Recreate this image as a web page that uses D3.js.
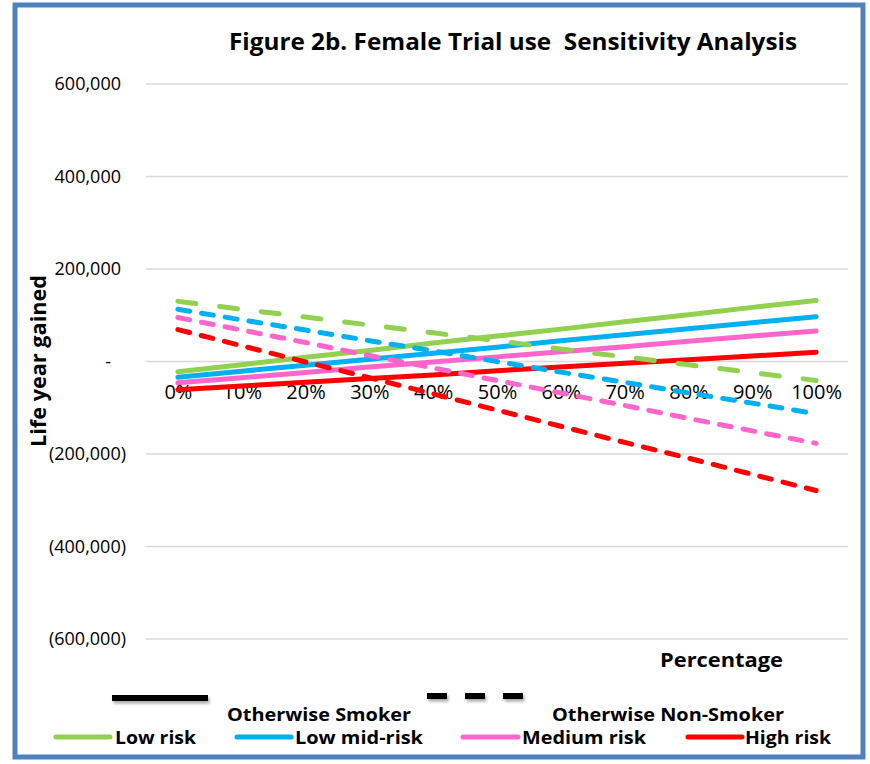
<!DOCTYPE html>
<html>
<head>
<meta charset="utf-8">
<script src="https://cdn.jsdelivr.net/npm/d3@7"></script>
<style>
  html, body { margin: 0; padding: 0; background: #fff; }
  svg { display: block; }
  text { font-family: "Open Sans", "Noto Sans", sans-serif; fill: #000; }
</style>
</head>
<body>
<svg id="chart" width="870" height="764"></svg>
<script>
// ---- data ----
const categories = ["0%","10%","20%","30%","40%","50%","60%","70%","80%","90%","100%"];
const riskLabels = ["Low risk","Low mid-risk","Medium risk","High risk"];
const riskColors = ["#92D050","#00B0F0","#FF66CC","#FF0000"];
// Otherwise Smoker (solid)
const smokerLow     = [-22000,-7000,9000,24000,40000,55000,70000,86000,101000,117000,132000];
const smokerLowMid  = [-34000,-21000,-8000,5000,18000,31000,45000,58000,71000,84000,97000];
const smokerMedium  = [-46000,-35000,-24000,-12000,-1000,10000,21000,32000,44000,55000,66000];
const smokerHigh    = [-61000,-53000,-45000,-37000,-29000,-20000,-12000,-4000,4000,12000,20000];
// Otherwise Non-Smoker (dashed)
const nonSmokerLow    = [130000,113000,96000,79000,62000,45000,27000,10000,-7000,-24000,-41000];
const nonSmokerLowMid = [113000,90000,68000,45000,23000,0,-23000,-45000,-68000,-90000,-113000];
const nonSmokerMedium = [95000,68000,41000,13000,-14000,-41000,-68000,-95000,-123000,-150000,-177000];
const nonSmokerHigh   = [69000,34000,-1000,-35000,-70000,-105000,-140000,-175000,-209000,-244000,-279000];
const yTicks = [-600000,-400000,-200000,0,200000,400000,600000];

const solidSeries = [smokerLow, smokerLowMid, smokerMedium, smokerHigh];
const dashedSeries = [nonSmokerLow, nonSmokerLowMid, nonSmokerMedium, nonSmokerHigh];

const svg = d3.select("#chart");

// shadow filter for legend lines
const defs = svg.append("defs");
const f = defs.append("filter").attr("id","sh").attr("filterUnits","userSpaceOnUse")
  .attr("x",0).attr("y",600).attr("width",870).attr("height",164);
f.append("feDropShadow").attr("dx",1.5).attr("dy",2.5).attr("stdDeviation",1.5).attr("flood-color","#000").attr("flood-opacity",0.35);

// border
svg.append("rect").attr("x",15).attr("y",5).attr("width",848).attr("height",752)
  .attr("fill","#fff").attr("stroke","#4F81BD").attr("stroke-width",5);

const x = d3.scalePoint().domain(categories).range([146,848]).padding(0.5);
const y = d3.scaleLinear().domain([-600000,600000]).range([639,84]);

// gridlines
svg.append("g").selectAll("line").data(yTicks).join("line")
  .attr("x1",146).attr("x2",848)
  .attr("y1",d=>y(d)).attr("y2",d=>y(d))
  .attr("stroke","#D9D9D9").attr("stroke-width",1.5);

// y axis
const fmt = d3.format(",");
const yAxis = svg.append("g").attr("transform","translate(126,0)")
  .call(d3.axisLeft(y).tickValues(yTicks).tickSize(0).tickPadding(0)
    .tickFormat(d => d === 0 ? "-" : d < 0 ? "(" + fmt(-d) + ")" : fmt(d)));
yAxis.select(".domain").remove();
yAxis.selectAll("text")
  .attr("font-family",'"Open Sans", sans-serif').attr("font-size",18).attr("fill","#000")
  .attr("x", d => d === 0 ? -15 : d > 0 ? -5 : 0);

// x axis at zero
const xAxis = svg.append("g").attr("transform",`translate(0,${y(0)})`)
  .call(d3.axisBottom(x).tickSize(0).tickPadding(0));
xAxis.select(".domain").remove();
xAxis.selectAll("text")
  .attr("font-family",'"Open Sans", sans-serif').attr("font-size",20).attr("fill","#000")
  .attr("y",23);

// lines
const line = d3.line().x((d,i)=>x(categories[i])).y(d=>y(d));
const lg = svg.append("g");
solidSeries.forEach((s,i)=>{
  lg.append("path").datum(s).attr("d",line).attr("fill","none")
    .attr("stroke",riskColors[i]).attr("stroke-width",5).attr("stroke-linecap","round");
});
dashedSeries.forEach((s,i)=>{
  lg.append("path").datum(s).attr("d",line).attr("fill","none")
    .attr("stroke",riskColors[i]).attr("stroke-width",5).attr("stroke-linecap","round")
    .attr("stroke-dasharray", i===0 ? "18,24" : "12,12");
});

// title
svg.append("text").attr("x",229).attr("y",50).attr("font-weight","bold").attr("font-size",23)
  .attr("textLength",568).attr("lengthAdjust","spacingAndGlyphs").style("white-space","pre")
  .text("Figure 2b. Female Trial use  Sensitivity Analysis");

// y title
svg.append("text").attr("transform","translate(46,447) rotate(-90)")
  .attr("font-weight","bold").attr("font-size",21)
  .attr("textLength",172).attr("lengthAdjust","spacingAndGlyphs")
  .text("Life year gained");

// x title
svg.append("text").attr("x",660).attr("y",667).attr("font-weight","bold").attr("font-size",20)
  .attr("textLength",123).attr("lengthAdjust","spacingAndGlyphs").text("Percentage");

// legend row 1 (black style keys)
const lg1 = svg.append("g").attr("filter","url(#sh)");
lg1.append("rect").attr("x",112).attr("y",695).attr("width",96).attr("height",6).attr("fill","#000");
[427,465,503].forEach(dx=>{
  lg1.append("rect").attr("x",dx).attr("y",693).attr("width",20).attr("height",6).attr("fill","#000");
});
svg.append("text").attr("x",227).attr("y",721).attr("font-weight","bold").attr("font-size",18)
  .attr("textLength",184).attr("lengthAdjust","spacingAndGlyphs").text("Otherwise Smoker");
svg.append("text").attr("x",552).attr("y",721).attr("font-weight","bold").attr("font-size",18)
  .attr("textLength",232).attr("lengthAdjust","spacingAndGlyphs").text("Otherwise Non-Smoker");

// legend row 2
const leg2 = [
  {lx1:56, lx2:110, tx:115, tw:81},
  {lx1:237, lx2:291, tx:295, tw:128},
  {lx1:463, lx2:518, tx:522, tw:124},
  {lx1:688, lx2:742, tx:745, tw:86}
];
leg2.forEach((p,i)=>{
  svg.append("line").attr("x1",p.lx1).attr("x2",p.lx2).attr("y1",737).attr("y2",737)
    .attr("stroke",riskColors[i]).attr("stroke-width",5).attr("stroke-linecap","round");
  svg.append("text").attr("x",p.tx).attr("y",744).attr("font-weight","bold").attr("font-size",18)
    .attr("textLength",p.tw).attr("lengthAdjust","spacingAndGlyphs").text(riskLabels[i]);
});
</script>
</body>
</html>
